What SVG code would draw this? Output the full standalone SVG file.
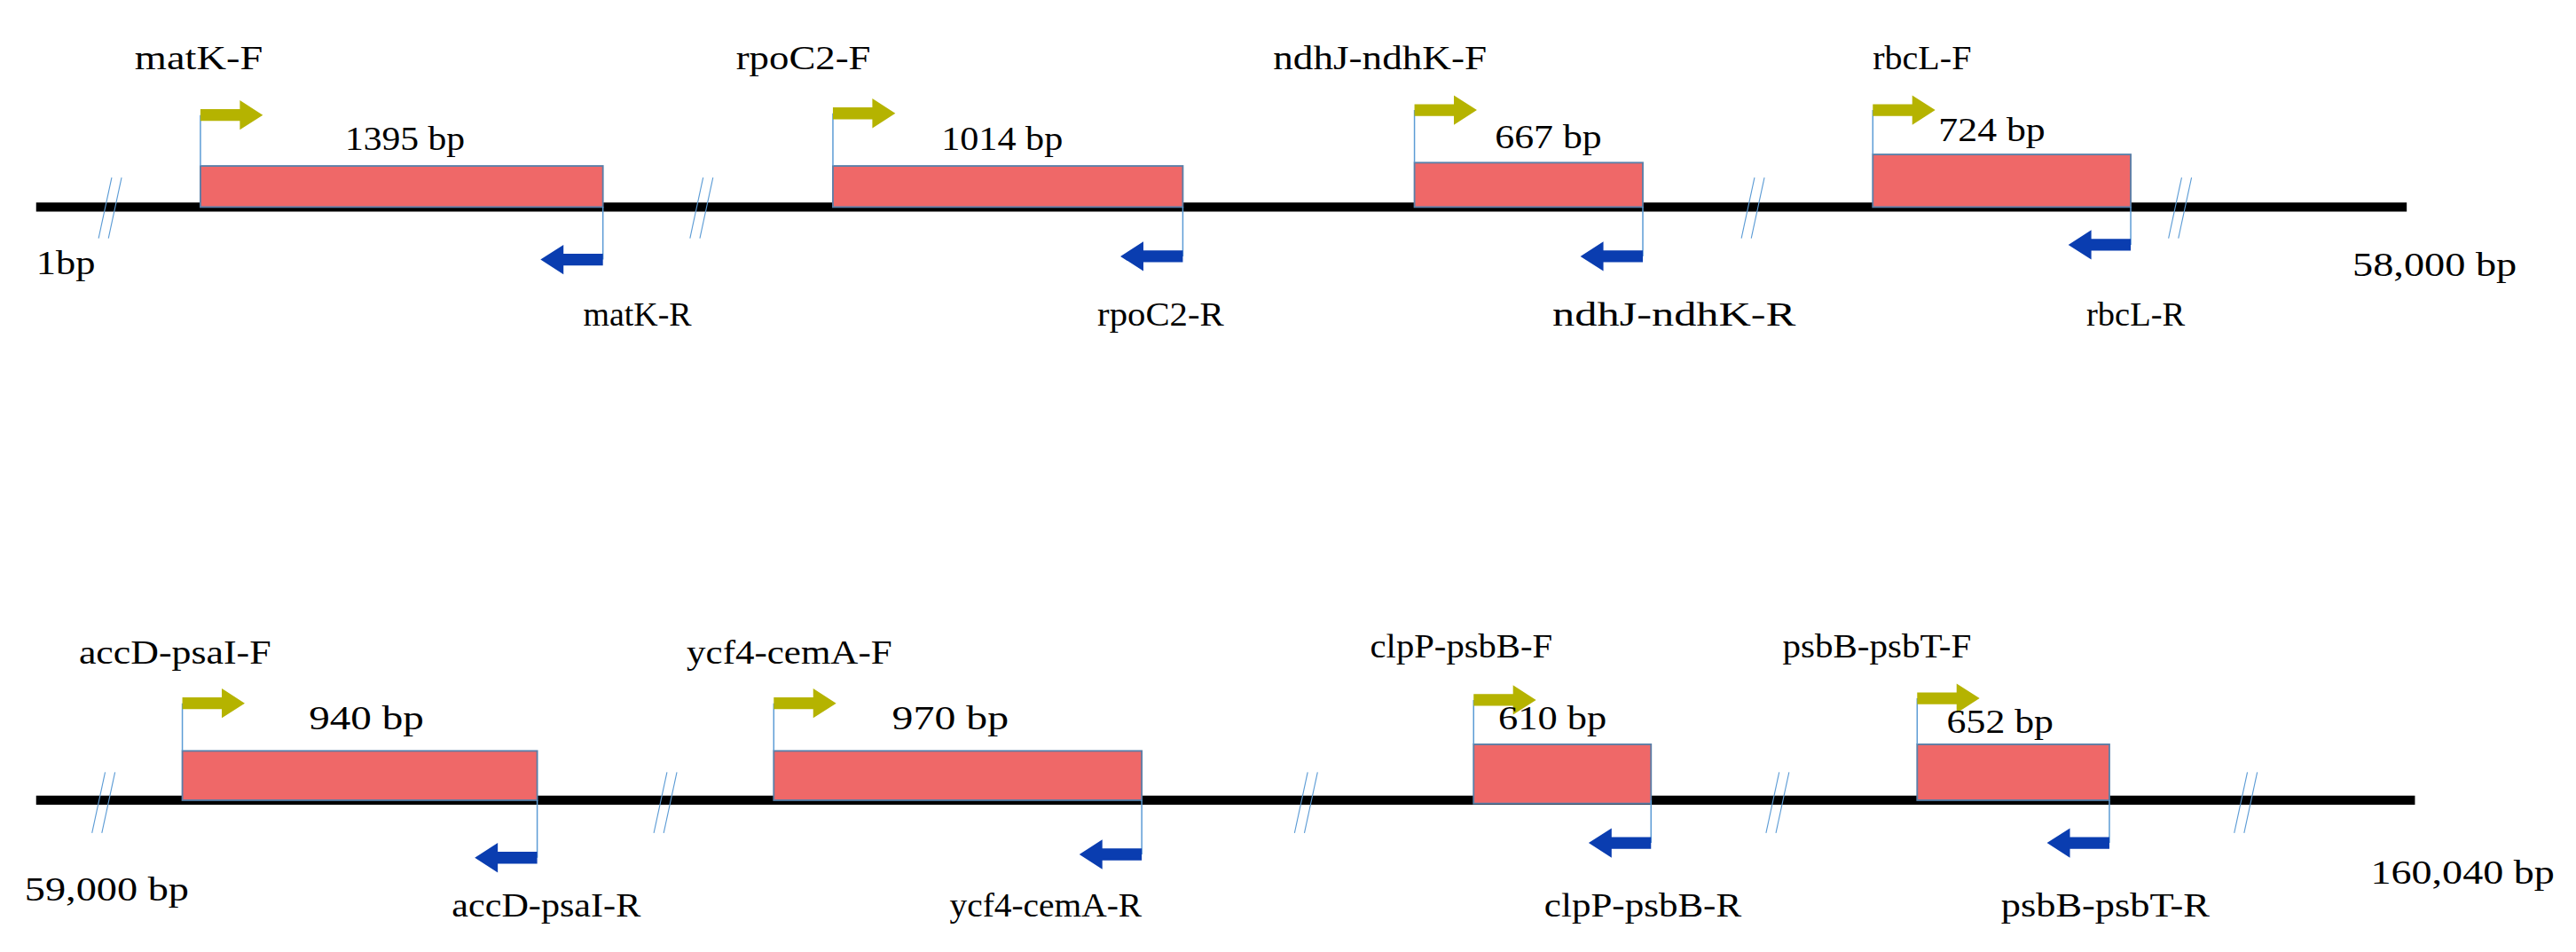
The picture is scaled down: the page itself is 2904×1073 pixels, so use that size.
<svg xmlns="http://www.w3.org/2000/svg" xmlns:xlink="http://www.w3.org/1999/xlink" width="2904" height="1073" viewBox="0 0 2904 1073">
<style>
text{font-family:"Liberation Serif","Times New Roman",serif;font-size:21px;fill:#000}
.axis{stroke:#000;stroke-width:5.5}
.box{fill:#ef6868;stroke:#5a7fa8;stroke-width:1}
.tick{stroke:#5b9bd5;stroke-width:0.8;fill:none}
.sl{stroke:#5b9bd5;stroke-width:0.6}
</style>
<defs>
<path id="fw" d="M0,-3.6 H24 V-9 L38,0 L24,9 V3.6 H0 Z" fill="#b5b300"/>
<path id="rv" d="M0,-3.6 H-24 V-9 L-38,0 L-24,9 V3.6 H0 Z" fill="#0a3db0"/>
<g id="slash"><line class="sl" x1="-2" y1="145" x2="6" y2="108"/><line class="sl" x1="4" y1="145" x2="12" y2="108"/></g>
</defs>
<rect width="2904" height="1073" fill="#fff"/>
<g transform="scale(1.852)">
<g id="axes">
<line class="axis" x1="22" y1="126" x2="1465" y2="126"/>
<line class="axis" x1="22" y1="487" x2="1470" y2="487"/>
<use href="#slash" x="62" y="0"/><use href="#slash" x="422" y="0"/><use href="#slash" x="1062" y="0"/><use href="#slash" x="1322" y="0"/>
<use href="#slash" x="58" y="362"/><use href="#slash" x="400" y="362"/><use href="#slash" x="790" y="362"/><use href="#slash" x="1077" y="362"/><use href="#slash" x="1362" y="362"/>
</g>
<text x="22" y="167" textLength="36" lengthAdjust="spacingAndGlyphs">1bp</text>
<text x="1432" y="168" textLength="100" lengthAdjust="spacingAndGlyphs">58,000 bp</text>
<text x="15" y="548" textLength="100" lengthAdjust="spacingAndGlyphs">59,000 bp</text>
<text x="1443" y="538" textLength="112" lengthAdjust="spacingAndGlyphs">160,040 bp</text>

<g id="matK"><rect class="box" x="122" y="101" width="245" height="25"/>
<path class="tick" d="M122,101 V70 M367,126 V158"/><use href="#fw" x="122" y="70"/><use href="#rv" x="367" y="158"/>
<text x="82" y="42" textLength="78" lengthAdjust="spacingAndGlyphs">matK-F</text>
<text x="210" y="91" textLength="73" lengthAdjust="spacingAndGlyphs">1395 bp</text>
<text x="355" y="198" textLength="66" lengthAdjust="spacingAndGlyphs">matK-R</text></g>

<g id="rpoC2"><rect class="box" x="507" y="101" width="213" height="25"/>
<path class="tick" d="M507,101 V69 M720,126 V156"/><use href="#fw" x="507" y="69"/><use href="#rv" x="720" y="156"/>
<text x="448" y="42" textLength="82" lengthAdjust="spacingAndGlyphs">rpoC2-F</text>
<text x="573" y="91" textLength="74" lengthAdjust="spacingAndGlyphs">1014 bp</text>
<text x="668" y="198" textLength="77" lengthAdjust="spacingAndGlyphs">rpoC2-R</text></g>

<g id="ndhJ"><rect class="box" x="861" y="99" width="139" height="27"/>
<path class="tick" d="M861,99 V67 M1000,126 V156"/><use href="#fw" x="861" y="67"/><use href="#rv" x="1000" y="156"/>
<text x="775" y="42" textLength="130" lengthAdjust="spacingAndGlyphs">ndhJ-ndhK-F</text>
<text x="910" y="90" textLength="65" lengthAdjust="spacingAndGlyphs">667 bp</text>
<text x="945" y="198" textLength="148" lengthAdjust="spacingAndGlyphs">ndhJ-ndhK-R</text></g>

<g id="rbcL"><rect class="box" x="1140" y="94" width="157" height="32"/>
<path class="tick" d="M1140,94 V67 M1297,126 V149"/><use href="#fw" x="1140" y="67"/><use href="#rv" x="1297" y="149"/>
<text x="1140" y="42" textLength="60" lengthAdjust="spacingAndGlyphs">rbcL-F</text>
<text x="1180" y="86" textLength="65" lengthAdjust="spacingAndGlyphs">724 bp</text>
<text x="1270" y="198" textLength="60" lengthAdjust="spacingAndGlyphs">rbcL-R</text></g>

<g id="accD"><rect class="box" x="111" y="457" width="216" height="30"/>
<path class="tick" d="M111,457 V428 M327,487 V522"/><use href="#fw" x="111" y="428"/><use href="#rv" x="327" y="522"/>
<text x="48" y="404" textLength="117" lengthAdjust="spacingAndGlyphs">accD-psaI-F</text>
<text x="188" y="444" textLength="70" lengthAdjust="spacingAndGlyphs">940 bp</text>
<text x="275" y="558" textLength="115" lengthAdjust="spacingAndGlyphs">accD-psaI-R</text></g>

<g id="ycf4"><rect class="box" x="471" y="457" width="224" height="30"/>
<path class="tick" d="M471,457 V428 M695,487 V520"/><use href="#fw" x="471" y="428"/><use href="#rv" x="695" y="520"/>
<text x="418" y="404" textLength="125" lengthAdjust="spacingAndGlyphs">ycf4-cemA-F</text>
<text x="543" y="444" textLength="71" lengthAdjust="spacingAndGlyphs">970 bp</text>
<text x="578" y="558" textLength="117" lengthAdjust="spacingAndGlyphs">ycf4-cemA-R</text></g>

<g id="clpP"><rect class="box" x="897" y="453" width="108" height="36"/>
<path class="tick" d="M897,453 V426 M1005,487 V513"/><use href="#fw" x="897" y="426"/><use href="#rv" x="1005" y="513"/>
<text x="834" y="400" textLength="111" lengthAdjust="spacingAndGlyphs">clpP-psbB-F</text>
<text x="912" y="444" textLength="66" lengthAdjust="spacingAndGlyphs">610 bp</text>
<text x="940" y="558" textLength="120" lengthAdjust="spacingAndGlyphs">clpP-psbB-R</text></g>

<g id="psbB"><rect class="box" x="1167" y="453" width="117" height="34"/>
<path class="tick" d="M1167,453 V425 M1284,487 V513"/><use href="#fw" x="1167" y="425"/><use href="#rv" x="1284" y="513"/>
<text x="1085" y="400" textLength="115" lengthAdjust="spacingAndGlyphs">psbB-psbT-F</text>
<text x="1185" y="446" textLength="65" lengthAdjust="spacingAndGlyphs">652 bp</text>
<text x="1218" y="558" textLength="127" lengthAdjust="spacingAndGlyphs">psbB-psbT-R</text></g>
</g>
</svg>
